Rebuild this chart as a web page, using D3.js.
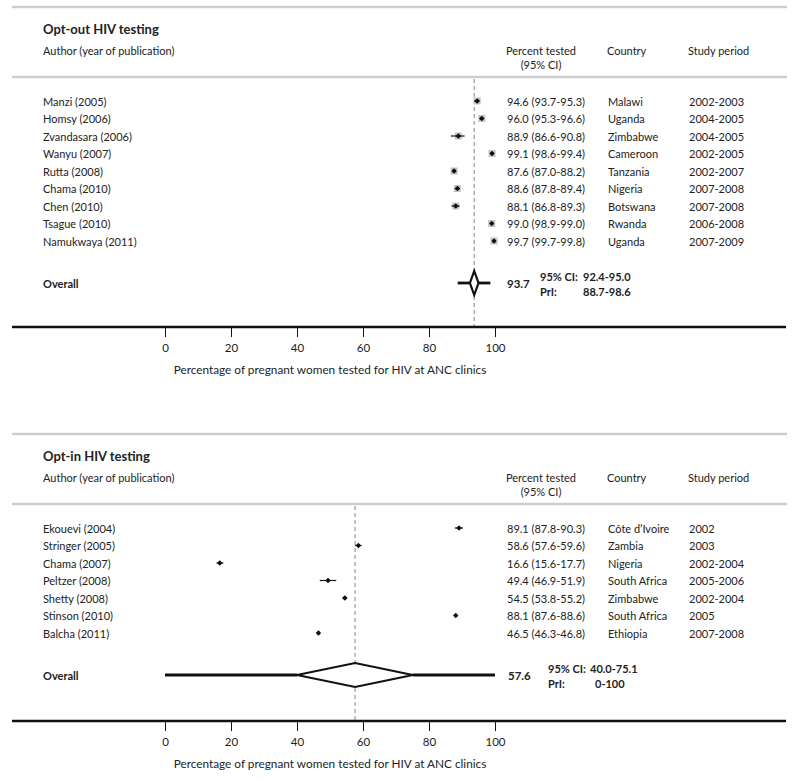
<!DOCTYPE html>
<html>
<head>
<meta charset="utf-8">
<script src="https://cdn.jsdelivr.net/npm/d3@7"></script>
<style>
  body { margin: 0; background: #fff; }
  svg text { font-family: Lato, "Open Sans", sans-serif; fill: #222; }
  .bold { font-weight: bold; }
</style>
</head>
<body>
<div id="chart"></div>
<script>
// Opt-out studies
const optOutAuthors = ['Manzi (2005)', 'Homsy (2006)', 'Zvandasara (2006)', 'Wanyu (2007)', 'Rutta (2008)',
                       'Chama (2010)', 'Chen (2010)', 'Tsague (2010)', 'Namukwaya (2011)'];
const optOutEst = [94.6, 96.0, 88.9, 99.1, 87.6, 88.6, 88.1, 99.0, 99.7];
const optOutLo = [93.7, 95.3, 86.6, 98.6, 87.0, 87.8, 86.8, 98.9, 99.7];
const optOutHi = [95.3, 96.6, 90.8, 99.4, 88.2, 89.4, 89.3, 99.0, 99.8];
const optOutCountry = ['Malawi', 'Uganda', 'Zimbabwe', 'Cameroon', 'Tanzania', 'Nigeria', 'Botswana', 'Rwanda', 'Uganda'];
const optOutPeriod = ['2002-2003', '2004-2005', '2004-2005', '2002-2005', '2002-2007', '2007-2008', '2007-2008', '2006-2008', '2007-2009'];
// overall: estimate, CI low, CI high, PrI low, PrI high
const optOutOverall = [93.7, 92.4, 95.0, 88.7, 98.6];

// Opt-in studies
const optInAuthors = ['Ekouevi (2004)', 'Stringer (2005)', 'Chama (2007)', 'Peltzer (2008)', 'Shetty (2008)',
                      'Stinson (2010)', 'Balcha (2011)'];
const optInEst = [89.1, 58.6, 16.6, 49.4, 54.5, 88.1, 46.5];
const optInLo = [87.8, 57.6, 15.6, 46.9, 53.8, 87.6, 46.3];
const optInHi = [90.3, 59.6, 17.7, 51.9, 55.2, 88.6, 46.8];
const optInCountry = ['Côte d\u2019Ivoire', 'Zambia', 'Nigeria', 'South Africa', 'Zimbabwe', 'South Africa', 'Ethiopia'];
const optInPeriod = ['2002', '2003', '2002-2004', '2005-2006', '2002-2004', '2005', '2007-2008'];
const optInOverall = [57.6, 40.0, 75.1, 0, 100];

const xTicks = [0, 20, 40, 60, 80, 100];
const axisTitle = 'Percentage of pregnant women tested for HIV at ANC clinics';

function fmt(v){ return v.toFixed(1); }

const width = 800, height = 780;
const svg = d3.select('#chart').append('svg').attr('width', width).attr('height', height);

const x = d3.scaleLinear().domain([0, 100]).range([165, 495]);

function drawPanel(cfg){
  const g = svg.append('g').attr('transform', `translate(0,${cfg.top})`);
  const n = cfg.authors.length;
  const firstRow = 101, step = cfg.step;
  const y = d3.scalePoint().domain(d3.range(n)).range([firstRow, firstRow + step * (n - 1)]);
  const overallY = firstRow + step * (n - 1) + 42;
  const axisY = overallY + cfg.axisGap;

  // header lines
  [7, 77].forEach(ly => g.append('line').attr('x1', 12).attr('x2', 787).attr('y1', ly).attr('y2', ly)
      .attr('stroke', '#cdcdcd').attr('stroke-width', 2.5));

  g.append('text').attr('class', 'bold').attr('x', 43).attr('y', 29).attr('dominant-baseline', 'central')
    .style('font-size', '13px').text(cfg.title);
  g.append('text').attr('x', 43).attr('y', 50).attr('dominant-baseline', 'central')
    .style('font-size', '11px').text('Author (year of publication)');
  g.append('text').attr('x', 541).attr('y', 50).attr('text-anchor', 'middle').attr('dominant-baseline', 'central')
    .style('font-size', '11px').text('Percent tested');
  g.append('text').attr('x', 541).attr('y', 64).attr('text-anchor', 'middle').attr('dominant-baseline', 'central')
    .style('font-size', '11px').text('(95% CI)');
  g.append('text').attr('x', 607).attr('y', 50).attr('dominant-baseline', 'central')
    .style('font-size', '11px').text('Country');
  g.append('text').attr('x', 688).attr('y', 50).attr('dominant-baseline', 'central')
    .style('font-size', '11px').text('Study period');

  // reference dashed line at overall estimate
  g.append('line').attr('x1', x(cfg.overall[0])).attr('x2', x(cfg.overall[0]))
    .attr('y1', 79).attr('y2', axisY)
    .attr('stroke', '#9a9a9a').attr('stroke-width', 1.2).attr('stroke-dasharray', '4,3');

  const rows = g.selectAll('.row').data(d3.range(n)).join('g').attr('class', 'row')
    .attr('transform', i => `translate(0,${y(i)})`);

  rows.append('text').attr('x', 43).attr('dominant-baseline', 'central').style('font-size', '11px')
    .text(i => cfg.authors[i]);
  rows.append('text').attr('x', 507).attr('dominant-baseline', 'central').style('font-size', '11px')
    .text(i => `${fmt(cfg.est[i])} (${fmt(cfg.lo[i])}-${fmt(cfg.hi[i])})`);
  rows.append('text').attr('x', 608).attr('dominant-baseline', 'central').style('font-size', '11px')
    .text(i => cfg.country[i]);
  rows.append('text').attr('x', 689).attr('dominant-baseline', 'central').style('font-size', '11px')
    .text(i => cfg.period[i]);

  if (cfg.boxes){
    rows.append('rect').attr('x', i => x(cfg.est[i]) - 3.5).attr('y', -3.5)
      .attr('width', 7).attr('height', 7).attr('fill', '#c4c4c4');
  }
  rows.append('line').attr('x1', i => x(cfg.lo[i])).attr('x2', i => x(cfg.hi[i]))
    .attr('stroke', '#111').attr('stroke-width', 1.2);
  rows.append('path').attr('transform', i => `translate(${x(cfg.est[i])},0)`)
    .attr('d', d3.symbol(d3.symbolDiamond2 || d3.symbolDiamond, 18)).attr('fill', '#111');
  rows.append('circle').attr('cx', i => x(cfg.est[i])).attr('r', 1.8).attr('fill', '#111');

  // overall
  const ov = cfg.overall;
  g.append('text').attr('class', 'bold').attr('x', 43).attr('y', overallY).attr('dominant-baseline', 'central')
    .style('font-size', '11px').text('Overall');
  g.append('line').attr('x1', x(ov[3])).attr('x2', x(ov[1])).attr('y1', overallY).attr('y2', overallY)
    .attr('stroke', '#111').attr('stroke-width', 2.8);
  g.append('line').attr('x1', x(ov[2])).attr('x2', x(ov[4])).attr('y1', overallY).attr('y2', overallY)
    .attr('stroke', '#111').attr('stroke-width', 2.8);
  g.append('path')
    .attr('d', `M${x(ov[1])},${overallY} L${x(ov[0])},${overallY - 12} L${x(ov[2])},${overallY} L${x(ov[0])},${overallY + 12} Z`)
    .attr('fill', '#fff').attr('stroke', '#111').attr('stroke-width', 2.2);

  g.append('text').attr('class', 'bold').attr('x', cfg.estX).attr('y', overallY).attr('dominant-baseline', 'central')
    .style('font-size', '11.5px').text(fmt(ov[0]));
  g.append('text').attr('class', 'bold').attr('x', cfg.labX).attr('y', overallY - 7).attr('dominant-baseline', 'central')
    .style('font-size', '11px').text('95% CI:');
  g.append('text').attr('class', 'bold').attr('x', cfg.labX).attr('y', overallY + 8).attr('dominant-baseline', 'central')
    .style('font-size', '11px').text('PrI:');
  g.append('text').attr('class', 'bold').attr('x', cfg.ciX).attr('y', overallY - 7).attr('dominant-baseline', 'central')
    .style('font-size', '11px').text(`${fmt(ov[1])}-${fmt(ov[2])}`);
  g.append('text').attr('class', 'bold').attr('x', cfg.priX).attr('y', overallY + 8).attr('dominant-baseline', 'central')
    .style('font-size', '11px').text(cfg.priText);

  // axis
  g.append('line').attr('x1', 12).attr('x2', 786).attr('y1', axisY).attr('y2', axisY)
    .attr('stroke', '#111').attr('stroke-width', 2.5);
  const axis = d3.axisBottom(x).tickValues(xTicks).tickSize(10).tickPadding(7).tickFormat(d3.format('d'));
  const ag = g.append('g').attr('transform', `translate(0,${axisY})`).call(axis);
  ag.select('.domain').remove();
  ag.selectAll('.tick line').attr('stroke', '#111');
  ag.selectAll('.tick text').style('font-size', '11.5px').style('font-family', 'Lato, "Open Sans", sans-serif').attr('fill', '#222');
  g.append('text').attr('x', x(50)).attr('y', axisY + 42).attr('text-anchor', 'middle').attr('dominant-baseline', 'central')
    .style('font-size', '11.8px').text(axisTitle);
}

drawPanel({
  top: 0, step: 17.5, axisGap: 44, boxes: true,
  title: 'Opt-out HIV testing',
  authors: optOutAuthors, est: optOutEst, lo: optOutLo, hi: optOutHi,
  country: optOutCountry, period: optOutPeriod, overall: optOutOverall,
  estX: 507, labX: 540, ciX: 583, priX: 583, priText: `${fmt(optOutOverall[3])}-${fmt(optOutOverall[4])}`
});

drawPanel({
  top: 427, step: 17.5, axisGap: 46, boxes: false,
  title: 'Opt-in HIV testing',
  authors: optInAuthors, est: optInEst, lo: optInLo, hi: optInHi,
  country: optInCountry, period: optInPeriod, overall: optInOverall,
  estX: 508, labX: 548, ciX: 590, priX: 595, priText: `${optInOverall[3]}-${optInOverall[4]}`
});
</script>
</body>
</html>
